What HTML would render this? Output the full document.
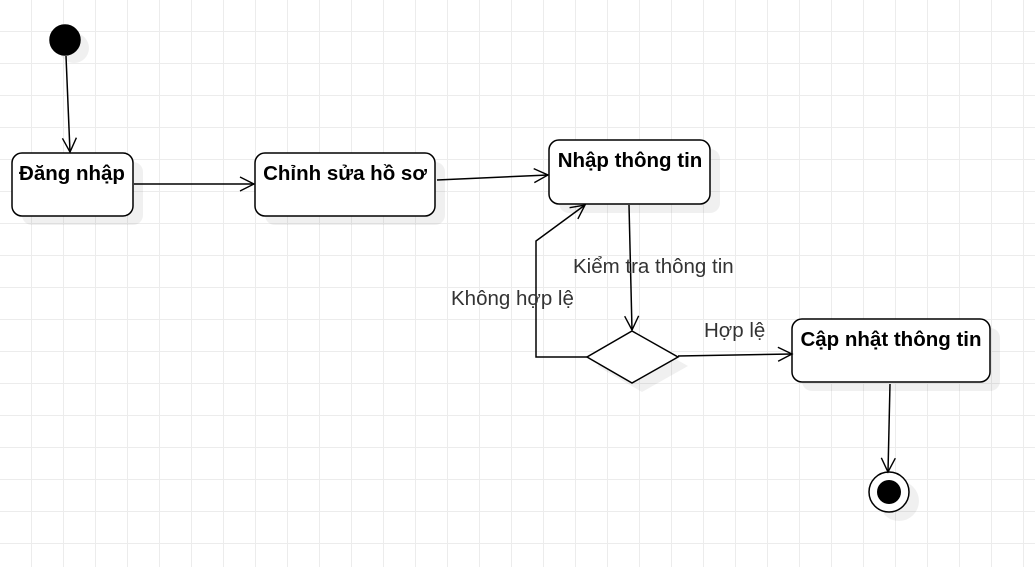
<!DOCTYPE html>
<html><head><meta charset="utf-8"><style>
html,body{margin:0;padding:0;background:#fff;}
svg{display:block;}
text{font-family:"Liberation Sans",sans-serif;}
</style></head><body>
<svg width="1035" height="567" viewBox="0 0 1035 567" xmlns="http://www.w3.org/2000/svg">
<defs>
<pattern id="g" width="32" height="32" patternUnits="userSpaceOnUse" x="0" y="0">
<path d="M31.5 0V32M0 31.5H32" stroke="#ececec" stroke-width="1" fill="none"/>
</pattern>
<marker id="a" markerWidth="18" markerHeight="18" refX="16" refY="9" orient="auto" markerUnits="userSpaceOnUse">
<path d="M2 2L16 9L2 16" fill="none" stroke="#000" stroke-width="1.4"/>
</marker>
</defs>
<rect width="1035" height="567" fill="url(#g)"/>
<g fill="#000" fill-opacity="0.06">
<circle cx="74" cy="48" r="15"/>
<rect x="22" y="162" width="121" height="63" rx="10"/>
<rect x="265" y="162" width="180" height="63" rx="10"/>
<rect x="559" y="149" width="161" height="64" rx="10"/>
<rect x="802" y="328" width="198" height="63" rx="10"/>
<polygon points="642,340 688,366 642,392 597,366"/>
<circle cx="899" cy="501" r="20"/>
</g>
<g stroke="#000" stroke-width="1.5" fill="#fff">
<circle cx="65" cy="40" r="15" fill="#000"/>
<rect x="12" y="153" width="121" height="63" rx="10"/>
<rect x="255" y="153" width="180" height="63" rx="10"/>
<rect x="549" y="140" width="161" height="64" rx="10"/>
<rect x="792" y="319" width="198" height="63" rx="10"/>
<polygon points="632,331 678,357 632,383 587,357"/>
<circle cx="889" cy="492" r="20"/>
<circle cx="889" cy="492" r="12" fill="#000" stroke="none"/>
</g>
<g stroke="#000" stroke-width="1.5" fill="none" marker-end="url(#a)">
<path d="M66 56L70 152"/>
<path d="M134 184L254 184"/>
<path d="M437 180L548 175"/>
<path d="M629 205L632 330"/>
<path d="M587 357H536V241L585 205"/>
<path d="M678 356L792 354"/>
<path d="M890 384L888 472"/>
</g>
<g font-weight="bold" font-size="20.5" fill="#000" text-anchor="middle">
<text x="72" y="180">Đăng nhập</text>
<text x="345" y="180">Chỉnh sửa hồ sơ</text>
<text x="630" y="167">Nhập thông tin</text>
<text x="891" y="346">Cập nhật thông tin</text>
</g>
<g font-size="20.5" fill="#333">
<text x="451" y="305">Không hợp lệ</text>
<text x="573" y="273">Kiểm tra thông tin</text>
<text x="704" y="337">Hợp lệ</text>
</g>
</svg>
</body></html>
